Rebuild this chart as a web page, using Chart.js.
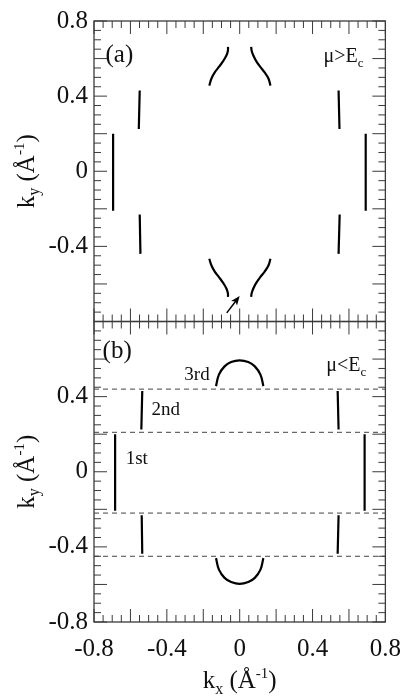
<!DOCTYPE html>
<html>
<head>
<meta charset="utf-8">
<script src="https://cdn.jsdelivr.net/npm/chart.js@4.4.0/dist/chart.umd.min.js"></script>
<style>
  html, body { margin: 0; padding: 0; background: #fff; }
  #wrap { position: relative; width: 413px; height: 698px; }
</style>
</head>
<body>
<div id="wrap"><canvas id="fermiChart"></canvas></div>
<script>
// axis ranges and tick labels
const kMin = -0.8, kMax = 0.8;
const xTicks = [-0.8, -0.4, 0, 0.4, 0.8];
const xTickLabels = ['-0.8', '-0.4', '0', '0.4', '0.8'];
const yTicksA = [-0.4, 0, 0.4, 0.8];
const yTickLabelsA = ['-0.4', '0', '0.4', '0.8'];
const yTicksB = [-0.8, -0.4, 0, 0.4];
const yTickLabelsB = ['-0.8', '-0.4', '0', '0.4'];

// ---- panel (a): mu > Ec ----
const aOuterLeftX = [-0.695, -0.695];
const aOuterRightX = [0.692, 0.692];
const aOuterY = [0.20, -0.21];
const aInnerUpperLeftX = [-0.549, -0.554];
const aInnerLowerLeftX = [-0.549, -0.545];
const aInnerUpperRightX = [0.543, 0.548];
const aInnerLowerRightX = [0.549, 0.543];
const aInnerUpperY = [0.43, 0.225];
const aInnerLowerY = [-0.23, -0.44];
const aCurveLeftX = [-0.167, -0.155, -0.137, -0.112, -0.090, -0.073, -0.065, -0.064];
const aCurveRightX = [0.169, 0.158, 0.137, 0.111, 0.090, 0.075, 0.066, 0.063];
const aCurveTopY = [0.456, 0.494, 0.526, 0.558, 0.588, 0.616, 0.640, 0.662];
const aCurveBottomY = [-0.466, -0.502, -0.534, -0.566, -0.596, -0.624, -0.648, -0.669];
const aArrowX = [-0.071, 0.0];
const aArrowY = [-0.754, -0.664];

// ---- panel (b): mu < Ec ----
const bFirstLeftX = [-0.684, -0.684];
const bFirstRightX = [0.686, 0.686];
const bFirstY = [0.20, -0.207];
const bSecondUpperLeftX = [-0.535, -0.540];
const bSecondLowerLeftX = [-0.538, -0.535];
const bSecondUpperRightX = [0.538, 0.543];
const bSecondLowerRightX = [0.543, 0.538];
const bSecondUpperY = [0.43, 0.225];
const bSecondLowerY = [-0.232, -0.437];
const bThirdX = [-0.130, -0.114, -0.083, -0.047, 0, 0.047, 0.083, 0.114, 0.130];
const bThirdTopY = [0.456, 0.517, 0.561, 0.584, 0.593, 0.584, 0.561, 0.517, 0.456];
const bThirdBottomY = [-0.460, -0.521, -0.565, -0.587, -0.597, -0.587, -0.565, -0.521, -0.460];
const bZoneEdges = [0.44, 0.21, -0.22, -0.45];

// text labels (data coords, left edge / baseline)
const notes = [
  { axis: 'ya', x: -0.737, y: 0.583, parts: [['(a)', 25, 0]] },
  { axis: 'ya', x: 0.460, y: 0.584, parts: [['\u03bc>E', 20, 0], ['c', 13, 5]] },
  { axis: 'yb', x: -0.753, y: 0.605, parts: [['(b)', 25, 0]] },
  { axis: 'yb', x: 0.476, y: 0.535, parts: [['\u03bc<E', 20, 0], ['c', 13, 5]] },
  { axis: 'yb', x: -0.304, y: 0.489, parts: [['3rd', 19, 0]] },
  { axis: 'yb', x: -0.484, y: 0.300, parts: [['2nd', 19, 0]] },
  { axis: 'yb', x: -0.626, y: 0.042, parts: [['1st', 19, 0]] }
];

const FONT = '"Liberation Serif", "DejaVu Serif", serif';
Chart.defaults.font.family = FONT;

const pts = (xs, ys) => xs.map((x, i) => ({ x: x, y: ys[i] }));

function curve(xs, ys, axis, tension) {
  return {
    data: pts(xs, ys),
    yAxisID: axis,
    showLine: true,
    borderColor: '#000',
    borderWidth: 2.2,
    pointRadius: 0,
    tension: tension || 0,
    fill: false
  };
}

const datasets = [
  curve(aOuterLeftX, aOuterY, 'ya'),
  curve(aOuterRightX, aOuterY, 'ya'),
  curve(aInnerUpperLeftX, aInnerUpperY, 'ya'),
  curve(aInnerLowerLeftX, aInnerLowerY, 'ya'),
  curve(aInnerUpperRightX, aInnerUpperY, 'ya'),
  curve(aInnerLowerRightX, aInnerLowerY, 'ya'),
  curve(aCurveLeftX, aCurveTopY, 'ya', 0.4),
  curve(aCurveRightX, aCurveTopY, 'ya', 0.4),
  curve(aCurveLeftX, aCurveBottomY, 'ya', 0.4),
  curve(aCurveRightX, aCurveBottomY, 'ya', 0.4),
  curve(bFirstLeftX, bFirstY, 'yb'),
  curve(bFirstRightX, bFirstY, 'yb'),
  curve(bSecondUpperLeftX, bSecondUpperY, 'yb'),
  curve(bSecondLowerLeftX, bSecondLowerY, 'yb'),
  curve(bSecondUpperRightX, bSecondUpperY, 'yb'),
  curve(bSecondLowerRightX, bSecondLowerY, 'yb'),
  curve(bThirdX, bThirdTopY, 'yb', 0.4),
  curve(bThirdX, bThirdBottomY, 'yb', 0.4)
];
bZoneEdges.forEach(v => {
  datasets.push({
    data: [{ x: kMin, y: v }, { x: kMax, y: v }],
    yAxisID: 'yb',
    showLine: true,
    borderColor: '#444',
    borderWidth: 1,
    borderDash: [5, 4],
    pointRadius: 0
  });
});

// frame with inward major/minor ticks on every side of both panels
const frameTicks = {
  id: 'frameTicks',
  afterDatasetsDraw(chart) {
    const { ctx } = chart;
    const xs = chart.scales.x;
    ctx.save();
    ['ya', 'yb'].forEach(id => {
      const ys = chart.scales[id];
      const l = xs.left, r = xs.right, t = ys.top, b = ys.bottom;
      ctx.strokeStyle = '#3a3a3a';
      ctx.lineWidth = 1;
      ctx.beginPath();
      for (let i = -16; i <= 16; i++) {
        const len = i % 4 === 0 ? 13 : 7;
        const px = xs.getPixelForValue(i * 0.05);
        ctx.moveTo(px, t); ctx.lineTo(px, t + len);
        ctx.moveTo(px, b); ctx.lineTo(px, b - len);
        const py = ys.getPixelForValue(i * 0.05);
        ctx.moveTo(l, py); ctx.lineTo(l + len, py);
        ctx.moveTo(r, py); ctx.lineTo(r - len, py);
      }
      ctx.stroke();
      ctx.lineWidth = 1.3;
      ctx.strokeRect(l, t, r - l, b - t);
    });
    ctx.restore();
  }
};

function drawRich(ctx, parts, x, y, centered) {
  let w = 0;
  parts.forEach(p => { ctx.font = p[1] + 'px ' + FONT; w += ctx.measureText(p[0]).width; });
  let cx = centered ? x - w / 2 : x;
  parts.forEach(p => {
    ctx.font = p[1] + 'px ' + FONT;
    ctx.fillText(p[0], cx, y + p[2]);
    cx += ctx.measureText(p[0]).width;
  });
}

// axis titles, notes and the arrow
const textLayer = {
  id: 'textLayer',
  afterDraw(chart) {
    const { ctx } = chart;
    const xs = chart.scales.x;
    ctx.save();
    ctx.fillStyle = '#111';
    ctx.textBaseline = 'alphabetic';
    ctx.textAlign = 'left';

    const yTitle = [['k', 25, 0], ['y', 16, 5], [' (\u00c5', 25, 0], ['-1', 15, -10], [')', 25, 0]];
    ['ya', 'yb'].forEach(id => {
      const ys = chart.scales[id];
      ctx.save();
      ctx.translate(ys.left + 34, ys.getPixelForValue(0));
      ctx.rotate(-Math.PI / 2);
      drawRich(ctx, yTitle, 0, 0, true);
      ctx.restore();
    });
    const xTitle = [['k', 25, 0], ['x', 16, 6], [' (\u00c5', 25, 0], ['-1', 15, -10], [')', 25, 0]];
    drawRich(ctx, xTitle, xs.getPixelForValue(0), xs.bottom - 10, true);

    notes.forEach(n => {
      const ys = chart.scales[n.axis];
      drawRich(ctx, n.parts, xs.getPixelForValue(n.x), ys.getPixelForValue(n.y), false);
    });

    // arrow in panel (a)
    const ya = chart.scales.ya;
    const x0 = xs.getPixelForValue(aArrowX[0]), y0 = ya.getPixelForValue(aArrowY[0]);
    const x1 = xs.getPixelForValue(aArrowX[1]), y1 = ya.getPixelForValue(aArrowY[1]);
    const ang = Math.atan2(y1 - y0, x1 - x0);
    ctx.strokeStyle = '#000';
    ctx.lineWidth = 1.5;
    ctx.beginPath();
    ctx.moveTo(x0, y0);
    ctx.lineTo(x1 - 6 * Math.cos(ang), y1 - 6 * Math.sin(ang));
    ctx.stroke();
    ctx.fillStyle = '#000';
    ctx.beginPath();
    ctx.moveTo(x1, y1);
    ctx.lineTo(x1 - 10 * Math.cos(ang - 0.38), y1 - 10 * Math.sin(ang - 0.38));
    ctx.lineTo(x1 - 7 * Math.cos(ang), y1 - 7 * Math.sin(ang));
    ctx.lineTo(x1 - 10 * Math.cos(ang + 0.38), y1 - 10 * Math.sin(ang + 0.38));
    ctx.closePath();
    ctx.fill();
    ctx.restore();
  }
};

function yScale(ticks, labels, weight) {
  return {
    type: 'linear',
    position: 'left',
    stack: 'panels',
    stackWeight: 1,
    weight: weight,
    min: kMin,
    max: kMax,
    afterBuildTicks: s => { s.ticks = ticks.map(v => ({ value: v })); },
    afterFit: s => { s.width = 94; },
    ticks: {
      callback: (v, i) => labels[i],
      font: { size: 25 },
      color: '#111',
      padding: 6,
      autoSkip: false
    },
    grid: { display: false, drawTicks: false },
    border: { display: false }
  };
}

new Chart(document.getElementById('fermiChart'), {
  type: 'scatter',
  data: { datasets: datasets },
  options: {
    responsive: true,
    maintainAspectRatio: false,
    animation: false,
    layout: { padding: { top: 16, right: 16, left: 0, bottom: 0 } },
    plugins: {
      legend: { display: false },
      tooltip: { enabled: false }
    },
    scales: {
      x: {
        type: 'linear',
        position: 'bottom',
        min: kMin,
        max: kMax,
        afterBuildTicks: s => { s.ticks = xTicks.map(v => ({ value: v })); },
        afterFit: s => { s.height = 76; },
        ticks: {
          callback: (v, i) => xTickLabels[i],
          font: { size: 25 },
          color: '#111',
          padding: 12,
          maxRotation: 0,
          autoSkip: false
        },
        grid: { display: false, drawTicks: false },
        border: { display: false }
      },
      yb: yScale(yTicksB, yTickLabelsB, 0),
      ya: yScale(yTicksA, yTickLabelsA, 1)
    }
  },
  plugins: [frameTicks, textLayer]
});
</script>
</body>
</html>
